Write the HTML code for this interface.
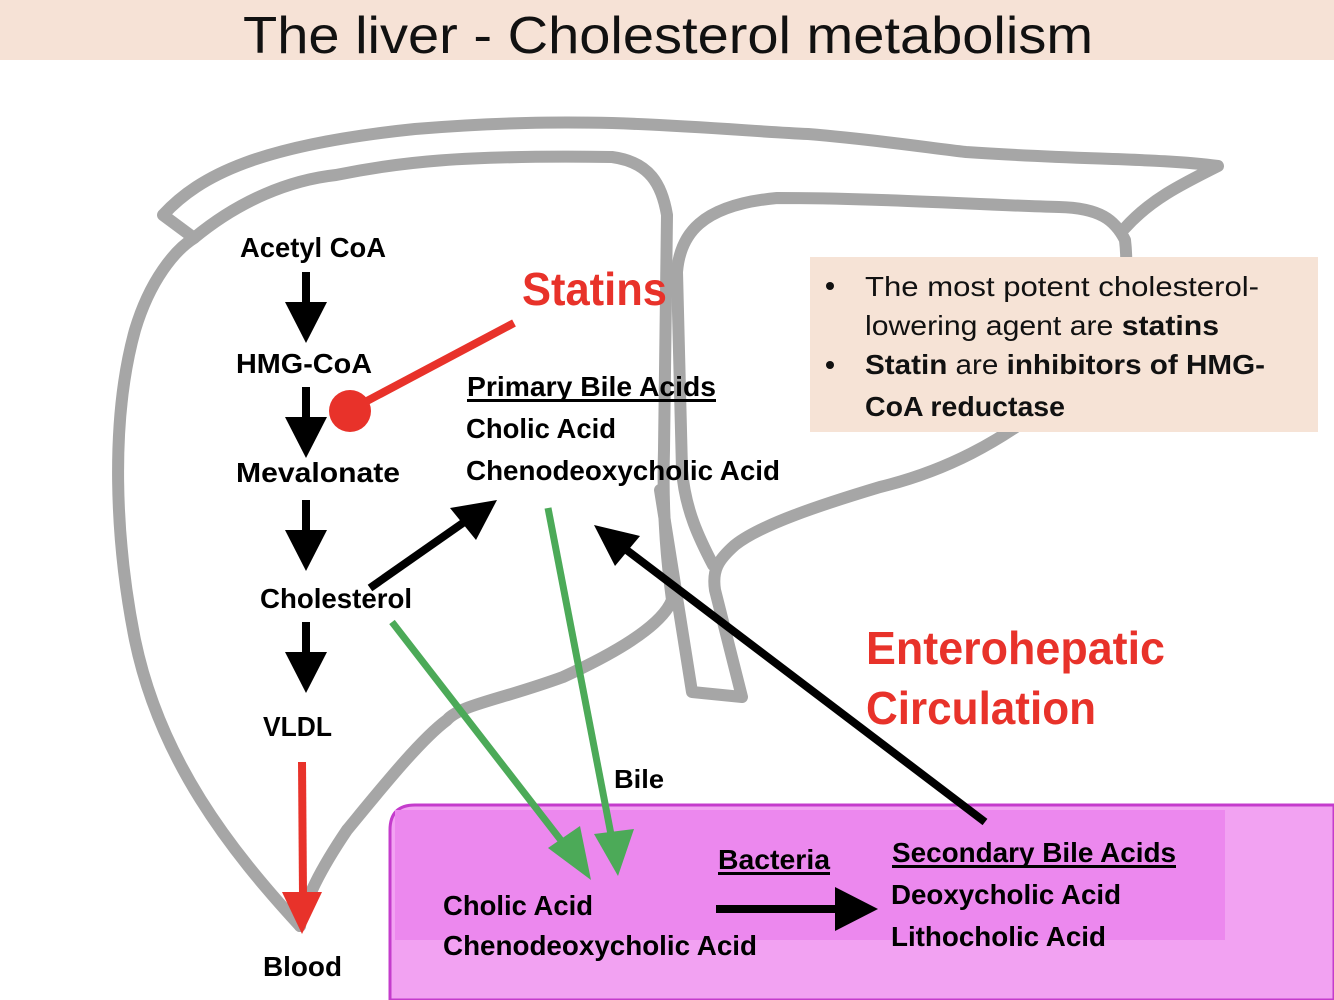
<!DOCTYPE html>
<html><head><meta charset="utf-8"><style>
html,body{margin:0;padding:0;background:#fff}
svg{display:block}
text{font-family:"Liberation Sans",sans-serif;font-weight:bold}
</style></head><body>
<svg width="1334" height="1000" viewBox="0 0 1334 1000" xmlns="http://www.w3.org/2000/svg">
<rect x="0" y="0" width="1334" height="60" fill="#f6e2d6"/>
<text x="668" y="53" font-size="52" style="font-weight:normal" text-anchor="middle" textLength="850" lengthAdjust="spacingAndGlyphs" fill="#111">The liver -  Cholesterol metabolism</text>

<g fill="none" stroke="#a6a6a6" stroke-width="12" stroke-linejoin="round" stroke-linecap="round">
<!-- outer -->
<path d="M300,926 C230,850 160,760 135,640 C115,540 110,420 135,330 C150,280 175,250 194,238 L163,215 C200,175 260,145 415,129 C500,122 560,122 612,123 C700,126 760,132 808,134 C880,140 930,148 966,152 C1080,160 1160,158 1218,166 C1180,185 1150,200 1125,228"/>
<!-- left lobe inner -->
<path d="M194,238 C240,200 290,180 336,175 C400,162 460,155 612,157 C650,162 662,185 667,215 L664,450 C662,520 668,570 672,600 C660,630 600,660 563,677 C500,700 460,705 447,720 C420,740 380,790 347,830 C320,870 305,900 300,926"/>
<!-- right lobe -->
<path d="M713,565 C700,540 685,510 682,470 L677,272 C680,235 700,205 777,198 C880,198 980,205 1059,207 C1100,208 1115,220 1125,240 C1132,300 1110,360 1040,410 C1000,440 950,470 880,487 C820,505 760,525 735,545 C718,560 712,570 715,590 L742,697 L692,692 L660,490"/>
</g>

<!-- peach box -->
<rect x="810" y="257" width="508" height="175" fill="#f6e3d6"/>
<g font-size="28" fill="#111">
<circle cx="830" cy="286" r="4" fill="#111"/>
<circle cx="830" cy="365" r="4" fill="#111"/>
<text x="865" y="296" style="font-weight:normal" textLength="394" lengthAdjust="spacingAndGlyphs">The most potent cholesterol-</text>
<text x="865" y="335" textLength="354" lengthAdjust="spacingAndGlyphs"><tspan style="font-weight:normal">lowering agent are </tspan>statins</text>
<text x="865" y="374" textLength="400" lengthAdjust="spacingAndGlyphs">Statin<tspan style="font-weight:normal"> are </tspan>inhibitors of HMG-</text>
<text x="865" y="416" textLength="200" lengthAdjust="spacingAndGlyphs">CoA reductase</text>
</g>

<!-- pink intestine -->
<path d="M1334,805 L415,805 Q390,805 390,830 L390,1000 L1334,1000 Z" fill="#f2a2f2" stroke="#c43ccc" stroke-width="3"/>
<rect x="395" y="810" width="830" height="130" fill="#ec88ee"/>

<!-- black down arrows -->
<g fill="#000">
<rect x="302" y="272" width="8" height="32"/><polygon points="285,302 327,302 306,343"/>
<rect x="302" y="387" width="8" height="32"/><polygon points="285,417 327,417 306,458"/>
<rect x="302" y="500" width="8" height="32"/><polygon points="285,530 327,530 306,571"/>
<rect x="302" y="622" width="8" height="32"/><polygon points="285,652 327,652 306,693"/>
</g>
<!-- red to blood -->
<line x1="302" y1="762" x2="303" y2="895" stroke="#e8322a" stroke-width="8"/>
<polygon points="282,892 322,892 302,934" fill="#e8322a"/>
<!-- statins inhibitor -->
<line x1="514" y1="323" x2="350" y2="410" stroke="#e8322a" stroke-width="8"/>
<circle cx="350" cy="411" r="21" fill="#e8322a"/>
<!-- cholesterol -> primary -->
<line x1="370" y1="588" x2="470" y2="518" stroke="#000" stroke-width="8"/>
<polygon points="497,500 450,508 476,540" fill="#000"/>
<!-- green -->
<g stroke="#4caa58" stroke-width="7">
<line x1="392" y1="622" x2="570" y2="852"/>
<line x1="548" y1="508" x2="614" y2="850"/>
</g>
<polygon points="591,880 548,848 580,826" fill="#4caa58"/>
<polygon points="618,876 594,834 634,829" fill="#4caa58"/>
<!-- long black -->
<line x1="985" y1="822" x2="620" y2="545" stroke="#000" stroke-width="8"/>
<polygon points="594,525 640,536 615,566" fill="#000"/>
<!-- bacteria arrow -->
<line x1="716" y1="909" x2="840" y2="909" stroke="#000" stroke-width="8"/>
<polygon points="835,887 878,909 835,931" fill="#000"/>

<g fill="#000" font-size="28">
<text x="240" y="257" textLength="146" lengthAdjust="spacingAndGlyphs">Acetyl CoA</text>
<text x="236" y="373" textLength="136" lengthAdjust="spacingAndGlyphs">HMG-CoA</text>
<text x="236" y="482" textLength="164" lengthAdjust="spacingAndGlyphs">Mevalonate</text>
<text x="260" y="608" textLength="152" lengthAdjust="spacingAndGlyphs">Cholesterol</text>
<text x="263" y="736" textLength="69" lengthAdjust="spacingAndGlyphs">VLDL</text>
<text x="263" y="976" textLength="79" lengthAdjust="spacingAndGlyphs">Blood</text>
<text x="467" y="396" textLength="249" lengthAdjust="spacingAndGlyphs">Primary Bile Acids</text>
<rect x="467" y="399" width="249" height="3"/>
<text x="466" y="438" textLength="150" lengthAdjust="spacingAndGlyphs">Cholic Acid</text>
<text x="466" y="480" textLength="314" lengthAdjust="spacingAndGlyphs">Chenodeoxycholic Acid</text>
<text x="614" y="788" font-size="26" textLength="50" lengthAdjust="spacingAndGlyphs">Bile</text>
<text x="718" y="869" textLength="112" lengthAdjust="spacingAndGlyphs">Bacteria</text>
<rect x="718" y="872" width="112" height="3"/>
<text x="892" y="862" textLength="284" lengthAdjust="spacingAndGlyphs">Secondary Bile Acids</text>
<rect x="892" y="865" width="284" height="3"/>
<text x="891" y="904" textLength="230" lengthAdjust="spacingAndGlyphs">Deoxycholic Acid</text>
<text x="891" y="946" textLength="215" lengthAdjust="spacingAndGlyphs">Lithocholic Acid</text>
<text x="443" y="915" textLength="150" lengthAdjust="spacingAndGlyphs">Cholic Acid</text>
<text x="443" y="955" textLength="314" lengthAdjust="spacingAndGlyphs">Chenodeoxycholic Acid</text>
</g>
<g fill="#e8322a" font-size="46">
<text x="522" y="305" textLength="145" lengthAdjust="spacingAndGlyphs">Statins</text>
<text x="866" y="664" textLength="299" lengthAdjust="spacingAndGlyphs">Enterohepatic</text>
<text x="866" y="724" textLength="230" lengthAdjust="spacingAndGlyphs">Circulation</text>
</g>
</svg>
</body></html>
